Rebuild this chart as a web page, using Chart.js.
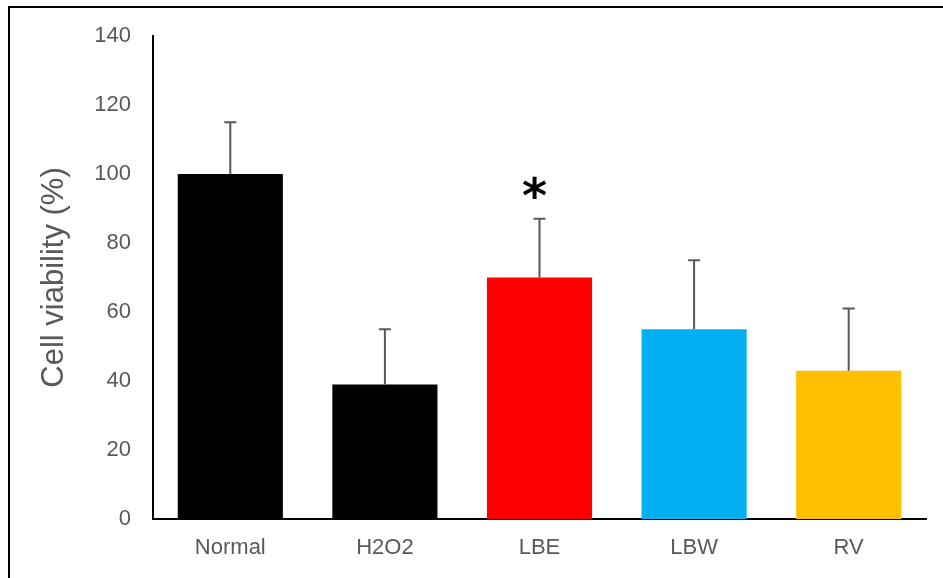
<!DOCTYPE html>
<html lang="en">
<head>
  <meta charset="UTF-8">
  <title>Cell viability</title>
  <style>
    body {
      margin: 0;
      background-color: #fff;
      overflow: hidden;
    }
    .wrap {
      position: relative;
      width: 943px;
      height: 578px;
    }
    .frame {
      position: absolute;
      left: 8px;
      top: 6px;
      width: 1000px;
      height: 1000px;
      border-top: 2px solid #000;
      border-left: 2px solid #000;
    }
    canvas {
      position: absolute;
      left: 0;
      top: 0;
    }
  </style>
  <script src="https://cdn.jsdelivr.net/npm/chart.js"></script>
</head>
<body>
  <div class="wrap">
    <div class="frame"></div>
    <canvas id="viabilityChart" width="943" height="578"></canvas>
  </div>

  <script>
    // data
    const groups = ['Normal', 'H2O2', 'LBE', 'LBW', 'RV'];
    const viability = [100, 39, 70, 55, 43];
    const errorTop = [115, 55, 87, 75, 61];
    const barColors = ['#000000', '#000000', '#FF0000', '#00B0F0', '#FFC000'];
    const yTicks = [0, 20, 40, 60, 80, 100, 120, 140];
    const sigGroups = ['LBE'];
    const sigLevel = [96];

    const grey = '#595959';

    // error bars drawn above each bar
    const errorBars = {
      id: 'errorBars',
      afterDatasetsDraw(chart) {
        const ctx = chart.ctx;
        const meta = chart.getDatasetMeta(0);
        const y = chart.scales.y;
        ctx.save();
        ctx.strokeStyle = grey;
        ctx.lineWidth = 2;
        meta.data.forEach((bar, i) => {
          const top = y.getPixelForValue(errorTop[i]);
          ctx.beginPath();
          ctx.moveTo(bar.x, bar.y);
          ctx.lineTo(bar.x, top);
          ctx.moveTo(bar.x - 6, top);
          ctx.lineTo(bar.x + 6, top);
          ctx.stroke();
        });
        ctx.restore();
      }
    };

    // significance asterisk
    const asterisks = {
      id: 'asterisks',
      afterDraw(chart) {
        const ctx = chart.ctx;
        ctx.save();
        ctx.fillStyle = '#000';
        ctx.font = 'bold 48px "DejaVu Sans"';
        ctx.textAlign = 'center';
        ctx.textBaseline = 'alphabetic';
        sigGroups.forEach((g, i) => {
          const x = chart.scales.x.getPixelForValue(groups.indexOf(g)) - 5;
          const yc = chart.scales.y.getPixelForValue(sigLevel[i]);
          const m = ctx.measureText('*');
          const mid = (m.actualBoundingBoxAscent - m.actualBoundingBoxDescent) / 2;
          ctx.fillText('*', x, yc + mid);
        });
        ctx.restore();
      }
    };

    new Chart(document.getElementById('viabilityChart'), {
      type: 'bar',
      data: {
        labels: groups,
        datasets: [{
          data: viability,
          backgroundColor: barColors,
          borderWidth: 0,
          categoryPercentage: 1,
          barPercentage: 0.68
        }]
      },
      options: {
        responsive: false,
        devicePixelRatio: 1,
        animation: false,
        layout: { padding: { top: 36, right: 17, left: 0, bottom: 0 } },
        plugins: {
          legend: { display: false },
          tooltip: { enabled: false }
        },
        scales: {
          x: {
            grid: { display: false, drawTicks: false },
            border: { color: '#000', width: 2 },
            ticks: {
              color: grey,
              font: { family: '"Liberation Sans", Arial', size: 22 },
              padding: 16
            },
            afterFit(scale) { scale.height = 59; }
          },
          y: {
            min: 0,
            max: 140,
            afterBuildTicks(scale) {
              scale.ticks = yTicks.map(v => ({ value: v }));
            },
            grid: { display: false, drawTicks: false },
            border: { color: '#000', width: 2 },
            ticks: {
              color: grey,
              font: { family: '"Liberation Sans", Arial', size: 22 },
              padding: 22
            },
            title: {
              display: true,
              text: 'Cell viability (%)',
              color: grey,
              font: { family: '"Liberation Sans", Arial', size: 31 },
              padding: { top: 36, bottom: 0 }
            },
            afterFit(scale) { scale.width = 153; }
          }
        }
      },
      plugins: [errorBars, asterisks]
    });
  </script>
</body>
</html>
